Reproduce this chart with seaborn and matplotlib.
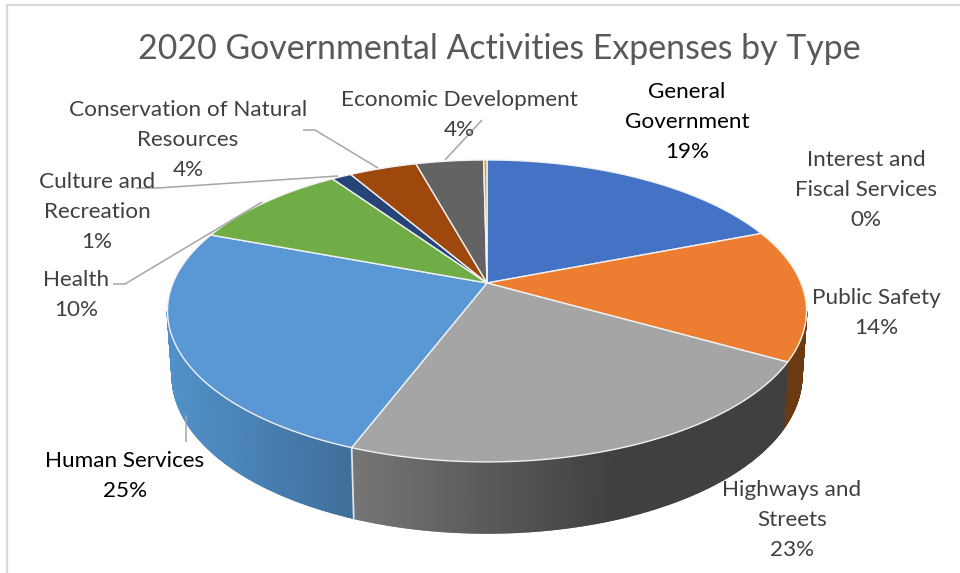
import numpy as np
import matplotlib
matplotlib.use("Agg")
import matplotlib.pyplot as plt
import matplotlib.colors as mcolors
import seaborn as sns

# Share of governmental activities expenses, clockwise from twelve o'clock
categories = ["General\nGovernment", "Public Safety", "Highways and\nStreets",
              "Human Services", "Health", "Culture and\nRecreation",
              "Conservation of Natural\nResources", "Economic Development",
              "Interest and\nFiscal Services"]
shares = [19.1, 14.1, 22.6, 24.9, 9.7, 1.2, 4.1, 4.1, 0.2]
top_colors = ["#4472C4", "#ED7D31", "#A5A5A5", "#5A98D5", "#70AD47",
              "#264478", "#9E480E", "#636363", "#C9A83A"]
title = "2020 Governmental Activities Expenses by Type"

sns.set_theme(style="white")
plt.rcParams["font.family"] = ["Lato", "DejaVu Sans"]
palette = sns.color_palette(top_colors)

fig = plt.figure(figsize=(9.6, 5.73), dpi=100, facecolor="white")
ax = fig.add_axes([0, 0, 1, 1])
ax.set_xlim(0, 960)
ax.set_ylim(573, 0)
ax.axis("off")

# Perspective of the pie disc
CX, CY, RX, RY, K = 487.0, 283.0, 314.0, 145.8, 0.185


def top_xy(theta):
    u, v = np.sin(theta), np.cos(theta)
    d = 1 + K * v
    return CX + RX * u / d, CY - RY * v / d


def bottom_xy(theta):
    x, y = top_xy(theta)
    return CX + (x - CX) * 0.985, y + 63 - 8 * np.cos(theta)


edges = np.radians(np.concatenate([[0], np.cumsum(shares)]) * 3.6)
wall_from, wall_to = np.radians(100.7), np.radians(259.3)


def wall_color(i, x):
    # Side shading runs left to right across each visible face
    if i == 1:
        return "#6A3A12"
    if i == 2:
        t = np.clip((x - 352) / 260, 0, 1)
        return mcolors.to_hex(np.array(mcolors.to_rgb("#767676")) * (1 - t)
                              + np.array(mcolors.to_rgb("#404040")) * t)
    t = np.clip((x - 172) / 180, 0, 1)
    return mcolors.to_hex(np.array(mcolors.to_rgb("#5190C8")) * (1 - t)
                          + np.array(mcolors.to_rgb("#3F6E9A")) * t)


# Side wall, built from narrow strips so the shading stays smooth
for i in range(len(shares)):
    a, b = max(edges[i], wall_from), min(edges[i + 1], wall_to)
    if a >= b:
        continue
    steps = np.linspace(a, b, max(int(np.degrees(b - a)), 2) * 3)
    for t0, t1 in zip(steps[:-1], steps[1:]):
        seg = np.linspace(t0, t1, 3)
        xt, yt = top_xy(seg)
        xb, yb = bottom_xy(seg)
        c = wall_color(i, xt.mean())
        ax.fill(np.r_[xt, xb[::-1]], np.r_[yt, yb[::-1]], color=c, lw=1.2, zorder=2)
    xt, yt = top_xy(np.array([b]))
    xb, yb = bottom_xy(np.array([b]))
    if i == 2:
        ax.plot([xt[0], xb[0]], [yt[0], yb[0]], color="#E2E2E2", lw=1.3, zorder=3)

# Top faces
for i, color in enumerate(palette):
    theta = np.linspace(edges[i], edges[i + 1], 160)
    x, y = top_xy(theta)
    ax.fill(np.r_[CX, x], np.r_[CY, y], facecolor=color, edgecolor="#F2F2F2",
            lw=1.0, joinstyle="round", zorder=4)

# Leader lines
leaders = [
    ([303, 315, 378], [130, 130, 168]),
    ([136, 158, 338], [188, 188, 176]),
    ([113, 125, 262], [284, 284, 202]),
    ([445, 482], [160, 120]),
    ([186, 186], [415, 442]),
]
for xs, ys in leaders:
    ax.plot(xs, ys, color="#A6A6A6", lw=1.1, zorder=5, solid_capstyle="butt")

# Data labels
label_pos = [(687, 92, "black"), (876, 298, "#404040"), (792, 490, "#404040"),
             (125, 461, "black"), (76, 280, "#404040"), (97, 182, "#404040"),
             (188, 110, "#404040"), (459, 100, "#404040"), (866, 160, "#404040")]
for name, share, (x, y, color) in zip(categories, shares, label_pos):
    lines = name.split("\n") + [f"{share:.0f}%"]
    for n, line in enumerate(lines):
        ax.text(x, y + 30 * n, line, ha="center", va="center", fontsize=16.2,
                color=color, zorder=6)

ax.text(499, 49, title, ha="center", va="center", fontsize=24.4, color="#595959")

# Thin frame along the top and left edges
ax.plot([7, 7], [5, 573], color="#D9D9D9", lw=1.6)
ax.plot([7, 960], [5, 5], color="#D9D9D9", lw=1.6)

fig.savefig("out.png", dpi=100)
